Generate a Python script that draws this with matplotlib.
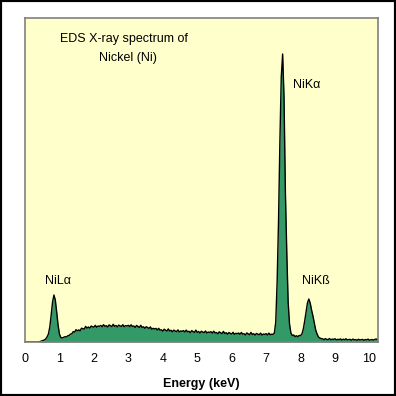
import numpy as np
import matplotlib
matplotlib.use("Agg")
import matplotlib.pyplot as plt
from matplotlib.patches import Rectangle

plt.rcParams["font.family"] = ["Liberation Sans", "DejaVu Sans"]

# spectrum: one value per 0.04 keV channel
channel_width = 0.04
counts = [
    0, 0, 0, 0, 0, 0, 0, 0, 0, 0, 0,
    0.5, 1, 1.5, 2, 3, 5, 8, 15, 27, 40, 47, 42, 30, 17, 8, 4.5, 4,
    4.6, 5.3, 5.0, 6.2, 6.6, 7.9, 8.3,
    10.4, 9.8, 12.3, 11.2, 12.1, 11.2, 13.8, 13.3, 12.9, 15.6,
    13.9, 15.0, 13.9, 15.9, 15.3, 14.9, 16.7, 14.8, 16.0, 15.7,
    16.6, 15.3, 17.3, 15.7, 16.3, 15.0, 17.1, 16.2, 15.4, 17.7,
    15.7, 16.5, 15.1, 16.9, 16.1, 15.6, 17.3, 15.3, 16.4, 16.0,
    16.7, 15.4, 17.2, 15.6, 16.0, 14.6, 16.6, 15.5, 14.6, 16.7,
    14.6, 15.2, 13.7, 15.3, 14.4, 13.6, 15.1, 12.8, 13.7, 13.0,
    13.6, 12.0, 13.7, 11.9, 12.2, 10.8, 12.8, 11.8, 10.9, 13.1,
    11.0, 11.7, 10.2, 11.9, 11.0, 10.4, 12.1, 10.0, 11.1, 10.6,
    11.4, 10.0, 11.9, 10.2, 10.7, 9.3, 11.4, 10.4, 9.6, 11.9,
    9.7, 10.5, 9.0, 10.8, 9.9, 9.4, 11.0, 9.0, 10.0, 9.6,
    10.3, 8.9, 10.8, 9.1, 9.5, 8.2, 10.2, 9.2, 8.4, 10.6,
    8.5, 9.3, 7.8, 9.5, 8.6, 8.0, 9.7, 7.7, 8.7, 8.3,
    9.0, 7.7, 9.5, 7.9, 8.3, 7.0, 9.1, 8.1, 7.3, 9.6,
    7.5, 8.3, 6.9, 8.6, 7.8, 7.3, 8.9, 6.9, 8.0, 7.6,
    8.3, 7.0, 8.9, 7.3, 7.8, 7.6,
    9, 20, 60, 120, 200, 265, 288, 245, 150, 90, 40, 18, 9,
    6.5, 7.0, 5.4, 6.3, 5.2, 6.6, 6.4,
    8, 13, 21, 30, 39, 43, 39, 32, 26, 19, 12, 8, 5, 4, 3.4,
    3.2, 2.3, 3.4, 2.6, 2.4, 3.5, 2.2, 2.9, 2.5, 3.3,
    2.1, 2.7, 2.4, 3.1, 2.0, 2.8, 2.3, 3.2, 2.1, 2.5,
    2.6, 1.8, 2.9, 2.2, 2.4, 1.7, 2.8, 2.0, 2.3, 2.6,
    1.7, 2.5, 2.1, 2.9, 1.8, 2.2, 2.4, 1.9, 2.7, 3.0, 2.2,
]
energy = np.arange(len(counts)) * channel_width

x_ticks = [0, 1, 2, 3, 4, 5, 6, 7, 8, 9, 10]
peak_names = ["NiLα", "NiKα", "NiKß"]

fig = plt.figure(figsize=(3.96, 3.96), dpi=100, facecolor="white")
ax = fig.add_axes([25 / 396, 54 / 396, 352.7 / 396, 324 / 396])
ax.set_facecolor("#FFFFCC")

ax.fill_between(energy, counts, 0, color="#339966", linewidth=0)
ax.plot(energy, counts, color="black", linewidth=1.0)

ax.set_xlim(0, 10.24)
ax.set_ylim(0, 324)
ax.set_xticks(x_ticks)
ax.set_xticklabels([str(t) for t in x_ticks], fontsize=9)
ax.tick_params(axis="x", length=0, pad=8)
ax.set_yticks([])
for s in ax.spines.values():
    s.set_color("#808080")
    s.set_linewidth(1.2)

ax.set_xlabel("Energy (keV)", fontsize=9, fontweight="bold", labelpad=9)

# title inside the plot area
ax.text(0.28, 0.935, "EDS X-ray spectrum of", transform=ax.transAxes,
        ha="center", va="center", fontsize=9)
ax.text(0.293, 0.875, "Nickel (Ni)", transform=ax.transAxes,
        ha="center", va="center", fontsize=9)

# peak labels
ax.text(0.95, 61, peak_names[0], ha="center", va="center", fontsize=9)
ax.text(7.78, 257, peak_names[1], ha="left", va="center", fontsize=9)
ax.text(8.45, 61, peak_names[2], ha="center", va="center", fontsize=9)

fig.patches.append(Rectangle((0, 0), 1, 1, transform=fig.transFigure,
                             fill=False, edgecolor="black", linewidth=3))

fig.savefig("out.png", dpi=100)
